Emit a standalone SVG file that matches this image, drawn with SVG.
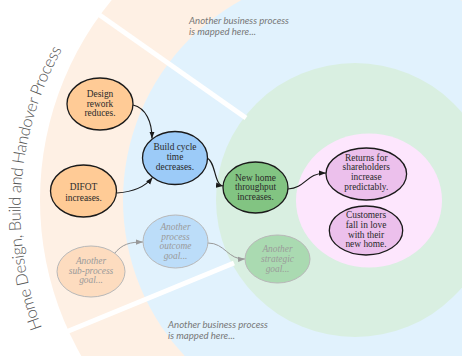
<svg xmlns="http://www.w3.org/2000/svg" width="462" height="356" viewBox="0 0 462 356">
<defs>
<style>
.bgt{font-family:"Lato","Liberation Sans",sans-serif;font-style:italic;font-size:9.6px;fill:#777}
.ttl{font-family:"Lato","Liberation Sans",sans-serif;font-weight:300;font-size:16.5px;fill:#555}
.nt{font-family:"Liberation Serif","DejaVu Serif",serif;font-size:9.4px;fill:#2a2a2a;text-anchor:middle}
.ft{font-family:"Liberation Serif","DejaVu Serif",serif;font-style:italic;font-size:9.4px;fill:#9a9a9a;text-anchor:middle}
.ne{stroke:#1a1a1a;stroke-width:1.3}
.fe{stroke:#b8b8b8;stroke-width:1}
.c{fill:none;stroke:#1a1a1a;stroke-width:1.2}
.cf{fill:none;stroke:#999;stroke-width:1}
</style>
<marker id="ah" viewBox="0 0 8 6" refX="8" refY="3" markerWidth="7" markerHeight="6" markerUnits="userSpaceOnUse" orient="auto">
<path d="M0,0 L8,3 L0,6 z" fill="#1a1a1a"/>
</marker>
<marker id="ahf" viewBox="0 0 8 6" refX="8" refY="3" markerWidth="7" markerHeight="6" markerUnits="userSpaceOnUse" orient="auto">
<path d="M0,0 L8,3 L0,6 z" fill="#999"/>
</marker>
<path id="arc" d="M42.1,328 A332,332 0 0 1 63.3,47.2"/>
</defs>
<rect width="462" height="356" fill="#fff"/>
<g id="background">
<circle cx="355" cy="200" r="315" fill="#FEF0E4"/>
<circle cx="351" cy="200" r="228" fill="#E1F2FD"/>
<ellipse cx="355" cy="200" rx="139" ry="137" fill="#D9EFE1"/>
<ellipse cx="369" cy="200.5" rx="73" ry="67" fill="#FDE6FD"/>
<line x1="246" y1="118" x2="84" y2="4" stroke="#fff" stroke-width="5"/>
<line x1="234" y1="263" x2="60" y2="334.5" stroke="#fff" stroke-width="5"/>
<text class="ttl"><textPath href="#arc" textLength="288" lengthAdjust="spacing">Home Design, Build and Handover Process</textPath></text>
<text class="bgt" x="189" y="23.5">Another business process</text>
<text class="bgt" x="189" y="35">is mapped here...</text>
<text class="bgt" x="168" y="327.5">Another business process</text>
<text class="bgt" x="168" y="338.5">is mapped here...</text>
</g>
<g id="connectors">
<path class="c" d="M133,105 C146,108 152,122 152,138.5" marker-end="url(#ah)"/>
<path class="c" d="M117,193 C132,192 145,187 152.5,177.5" marker-end="url(#ah)"/>
<path class="c" d="M207,158 C216,162 214,185 223,186" marker-end="url(#ah)"/>
<path class="c" d="M288,189 C306,188 306,173 326,173" marker-end="url(#ah)"/>
<path class="cf" d="M114,254 C122,244 130,242 143,242" marker-end="url(#ahf)"/>
<path class="cf" d="M208,243 C225,243 228,260 245,259" marker-end="url(#ahf)"/>
</g>
<g id="n-design">
<ellipse class="ne" cx="100" cy="104" rx="33" ry="26" fill="#FFCB96"/>
<text class="nt" x="100" y="97.3">Design</text>
<text class="nt" x="100" y="106.8">rework</text>
<text class="nt" x="100" y="116.3">reduces.</text>
</g>
<g id="n-difot">
<ellipse class="ne" cx="83.5" cy="191" rx="33" ry="26" fill="#FFCB96"/>
<text class="nt" x="83.5" y="190.3">DIFOT</text>
<text class="nt" x="83.5" y="200.6">increases.</text>
</g>
<g id="n-build">
<ellipse class="ne" cx="175" cy="158" rx="32.5" ry="26.5" fill="#9CCBF8"/>
<text class="nt" x="175" y="150.3">Build cycle</text>
<text class="nt" x="175" y="160.3">time</text>
<text class="nt" x="175" y="170.3">decreases.</text>
</g>
<g id="n-newhome">
<ellipse class="ne" cx="255.5" cy="187.5" rx="32.5" ry="25.5" fill="#82C482"/>
<text class="nt" x="255.5" y="180.6">New home</text>
<text class="nt" x="255.5" y="190.4">throughput</text>
<text class="nt" x="255.5" y="200.2">increases.</text>
</g>
<g id="n-returns">
<ellipse class="ne" cx="366.3" cy="174" rx="40.3" ry="26" fill="#ECC0EC"/>
<text class="nt" x="366.3" y="160.6">Returns for</text>
<text class="nt" x="366.3" y="170.4">shareholders</text>
<text class="nt" x="366.3" y="180">increase</text>
<text class="nt" x="366.3" y="189.8">predictably.</text>
</g>
<g id="n-customers">
<ellipse class="ne" cx="366" cy="230.5" rx="36.7" ry="24.5" fill="#ECC0EC"/>
<text class="nt" x="366" y="218.1">Customers</text>
<text class="nt" x="366" y="227.8">fall in love</text>
<text class="nt" x="366" y="237.5">with their</text>
<text class="nt" x="366" y="247.2">new home.</text>
</g>
<g id="n-subprocess">
<ellipse class="fe" cx="91" cy="271.5" rx="34" ry="25.5" fill="#FDDCBF"/>
<text class="ft" x="91" y="264.3">Another</text>
<text class="ft" x="91" y="274">sub-process</text>
<text class="ft" x="91" y="283.3">goal...</text>
</g>
<g id="n-outcome">
<ellipse class="fe" cx="175.5" cy="241.5" rx="32.5" ry="26.5" fill="#BCDDF9"/>
<text class="ft" x="175.5" y="230">Another</text>
<text class="ft" x="175.5" y="240">process</text>
<text class="ft" x="175.5" y="249.4">outcome</text>
<text class="ft" x="175.5" y="259">goal...</text>
</g>
<g id="n-strategic">
<ellipse class="fe" cx="277.5" cy="259" rx="32.5" ry="24" fill="#AADAB1"/>
<text class="ft" x="277.5" y="252.3">Another</text>
<text class="ft" x="277.5" y="262.3">strategic</text>
<text class="ft" x="277.5" y="271.6">goal...</text>
</g>
</svg>
